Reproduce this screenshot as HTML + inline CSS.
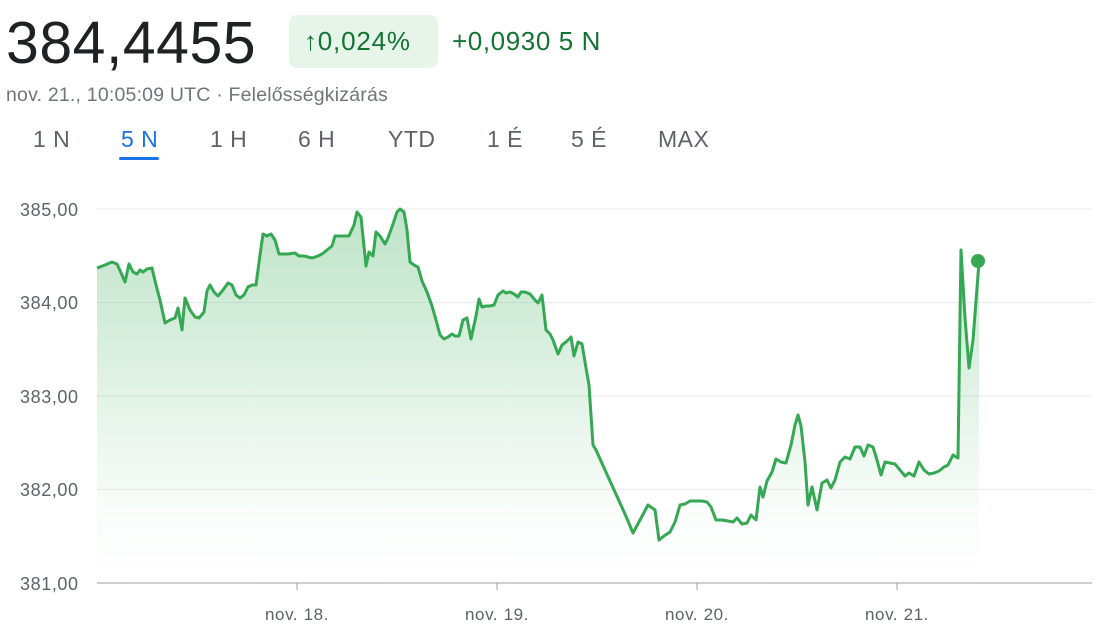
<!DOCTYPE html>
<html><head><meta charset="utf-8"><style>
body{margin:0;width:1110px;height:624px;background:#fff;font-family:"Liberation Sans",sans-serif;overflow:hidden;position:relative}
.a{position:absolute;white-space:nowrap}
</style></head><body>
<div class="a" style="left:6px;top:9px;font-size:59px;color:#202124;letter-spacing:0.5px">384,4455</div>
<div class="a" style="left:289px;top:15px;width:149px;height:53px;background:#e6f4ea;border-radius:8px"></div>
<div class="a" style="left:304px;top:26px;font-size:26px;color:#137333;letter-spacing:0.8px">↑0,024%</div>
<div class="a" style="left:452px;top:26px;font-size:26px;color:#137333;letter-spacing:0.6px">+0,0930 5 N</div>
<div class="a" style="left:6px;top:84px;font-size:19.5px;color:#70757a;letter-spacing:0.2px">nov. 21., 10:05:09 UTC · Felelősségkizárás</div>
<div class="a" style="top:126px;font-size:23px;color:#5f6368;left:0;width:760px;height:40px;letter-spacing:0.5px">
<span class="a" style="left:33px">1 N</span>
<span class="a" style="left:121px;color:#1a73e8">5 N</span>
<span class="a" style="left:210px">1 H</span>
<span class="a" style="left:298px">6 H</span>
<span class="a" style="left:388px">YTD</span>
<span class="a" style="left:487px">1 É</span>
<span class="a" style="left:571px">5 É</span>
<span class="a" style="left:658px">MAX</span>
</div>
<div class="a" style="left:119px;top:157px;width:40px;height:3px;background:#1a73e8;border-radius:2px"></div>
<svg class="a" style="left:0;top:0" width="1110" height="624">
<defs><linearGradient id="g" gradientUnits="userSpaceOnUse" x1="0" y1="209" x2="0" y2="583"><stop offset="0" stop-color="#34a853" stop-opacity="0.32"/><stop offset="0.8" stop-color="#34a853" stop-opacity="0.03"/><stop offset="1" stop-color="#34a853" stop-opacity="0"/></linearGradient></defs>
<g stroke="#ebebeb" stroke-width="1"><line x1="97" y1="209" x2="1092" y2="209"/><line x1="97" y1="302.5" x2="1092" y2="302.5"/><line x1="97" y1="396" x2="1092" y2="396"/><line x1="97" y1="489.5" x2="1092" y2="489.5"/></g>
<g font-size="18" fill="#5f6368" font-family="Liberation Sans,sans-serif" letter-spacing="0.6"><text x="20" y="216">385,00</text><text x="20" y="309">384,00</text><text x="20" y="403">383,00</text><text x="20" y="496">382,00</text><text x="20" y="590">381,00</text>
<text x="297" y="620" text-anchor="middle" font-size="17">nov. 18.</text><text x="497" y="620" text-anchor="middle" font-size="17">nov. 19.</text><text x="697" y="620" text-anchor="middle" font-size="17">nov. 20.</text><text x="897" y="620" text-anchor="middle" font-size="17">nov. 21.</text></g>
<path fill="url(#g)" stroke="none" d="M97,268 L105,265 112,262 117,264 122,275 125,282 129,264 133,272 137,274 140,270 143,272 147,269 152,268 156,285 160,300 165,323 170,320 175,318 178,308 182,330 185,298 190,310 195,317 199,318 204,312 207,291 210,285 214,292 218,296 223,290 228,283 232,285 236,295 240,298 244,295 248,287 252,285 256,285 260,255 263,234 267,236 271,234 275,240 279,254 283,254 288,254 295,253 299,256 304,256 308,257 312,258 318,256 322,254 327,250 332,246 335,236 344,236 349,236 354,225 357,212 361,217 366,266 369,252 373,256 376,232 380,236 385,244 388,238 393,224 397,212 400,209 404,212 407,230 410,262 414,265 418,267 422,281 427,292 432,306 436,320 440,335 444,339 448,337 452,334 455,336 459,336 463,320 467,318 471,339 476,316 479,299 482,307 486,306 490,306 494,305 498,295 503,291 506,293 510,292 514,294 518,297 521,292 525,292 530,294 535,300 538,303 542,295 546,330 550,334 553,340 558,354 562,345 566,342 571,337 574,356 578,342 582,344 586,368 589,385 593,445 596,450 605,470 615,492 625,514 633,533 640,520 648,505 655,510 659,540 664,536 670,532 675,522 680,505 685,504 690,501 695,501 702,501 707,502 711,507 716,520 722,520 728,521 733,522 737,518 742,524 747,523 751,515 756,520 760,487 763,497 767,481 772,472 776,459 781,462 786,463 791,445 795,425 798,415 801,426 805,462 808,505 812,487 817,510 822,483 827,480 831,488 835,480 840,462 845,457 850,459 855,447 860,447 864,456 868,445 873,447 877,460 881,475 885,462 890,463 895,464 900,470 905,476 909,473 914,476 919,462 924,470 929,474 934,473 939,471 944,467 948,465 953,455 958,458 961,250 965,318 969,368 973,340 979,262 L979,583 L97,583 Z"/>
<line x1="97" y1="583" x2="1092" y2="583" stroke="#9aa0a6" stroke-width="1"/>
<g stroke="#9aa0a6"><line x1="297" y1="583" x2="297" y2="590"/><line x1="497" y1="583" x2="497" y2="590"/><line x1="697" y1="583" x2="697" y2="590"/><line x1="897" y1="583" x2="897" y2="590"/></g>
<polyline fill="none" stroke="#34a853" stroke-width="3" stroke-linejoin="round" points="97,268 105,265 112,262 117,264 122,275 125,282 129,264 133,272 137,274 140,270 143,272 147,269 152,268 156,285 160,300 165,323 170,320 175,318 178,308 182,330 185,298 190,310 195,317 199,318 204,312 207,291 210,285 214,292 218,296 223,290 228,283 232,285 236,295 240,298 244,295 248,287 252,285 256,285 260,255 263,234 267,236 271,234 275,240 279,254 283,254 288,254 295,253 299,256 304,256 308,257 312,258 318,256 322,254 327,250 332,246 335,236 344,236 349,236 354,225 357,212 361,217 366,266 369,252 373,256 376,232 380,236 385,244 388,238 393,224 397,212 400,209 404,212 407,230 410,262 414,265 418,267 422,281 427,292 432,306 436,320 440,335 444,339 448,337 452,334 455,336 459,336 463,320 467,318 471,339 476,316 479,299 482,307 486,306 490,306 494,305 498,295 503,291 506,293 510,292 514,294 518,297 521,292 525,292 530,294 535,300 538,303 542,295 546,330 550,334 553,340 558,354 562,345 566,342 571,337 574,356 578,342 582,344 586,368 589,385 593,445 596,450 605,470 615,492 625,514 633,533 640,520 648,505 655,510 659,540 664,536 670,532 675,522 680,505 685,504 690,501 695,501 702,501 707,502 711,507 716,520 722,520 728,521 733,522 737,518 742,524 747,523 751,515 756,520 760,487 763,497 767,481 772,472 776,459 781,462 786,463 791,445 795,425 798,415 801,426 805,462 808,505 812,487 817,510 822,483 827,480 831,488 835,480 840,462 845,457 850,459 855,447 860,447 864,456 868,445 873,447 877,460 881,475 885,462 890,463 895,464 900,470 905,476 909,473 914,476 919,462 924,470 929,474 934,473 939,471 944,467 948,465 953,455 958,458 961,250 965,318 969,368 973,340 979,262"/>
<circle cx="978" cy="261" r="7" fill="#34a853"/>
</svg>
</body></html>
